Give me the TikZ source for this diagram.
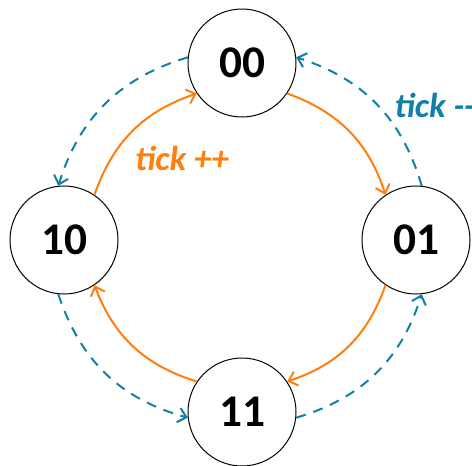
\documentclass[tikz,border=0pt]{standalone}
\usepackage{fontspec}
\setmainfont{Carlito}
\usetikzlibrary{arrows.meta}
\definecolor{tickorange}{RGB}{255,127,14}
\definecolor{tickblue}{RGB}{16,128,168}
\tikzset{every picture/.style={line width=0.75pt}}

\begin{document}
\begin{tikzpicture}[
            x=0.75pt,
            y=0.75pt,
            yscale=-1,
            xscale=1,
            every node/.style={text=black},
            cstate/.style={circle, draw=black, line width=0.75pt, minimum size=81pt, inner sep=0pt,
                font=\fontsize{34}{40}\selectfont\bfseries},
            tickup/.style={draw=tickorange, line width=1.5pt, -{Straight Barb[length=6pt,width=11pt]}},
            tickdown/.style={draw=tickblue, line width=1.5pt, dash pattern=on 7.5pt off 6pt,
                -{Straight Barb[length=6pt,width=11pt]}},
            ticklabel/.style={font=\fontsize{26}{30}\selectfont\bfseries\itshape, inner sep=0pt}
        ]
            \useasboundingbox (0,0) rectangle (472,465);

            \node[cstate] (n00) at (242,63) {00};
            \node[cstate] (n01) at (416,240) {01};
            \node[cstate] (n11) at (242,412) {11};
            \node[cstate] (n10) at (64,240) {10};

            % counting up
            \draw[tickup] (n00.-34) to[bend right=26] (n01.124);
            \draw[tickup] (n01.-124) to[bend right=26] (n11.34);
            \draw[tickup] (n11.146) to[bend right=26] (n10.-56);
            \draw[tickup] (n10.56) to[bend right=26] (n00.214);

            % counting down
            \draw[tickdown] (n00.174) to[bend left=28] (n10.96);
            \draw[tickdown] (n10.264) to[bend left=28] (n11.186);
            \draw[tickdown] (n11.-6) to[bend left=28] (n01.-84);
            \draw[tickdown] (n01.84) to[bend left=28] (n00.6);

            \node[ticklabel, text=tickorange, anchor=center] (lblup) at (182,158) {tick ++};
            \node[ticklabel, text=tickblue, anchor=west] (lbldown) at (394,105) {tick {-}{-}};
        \end{tikzpicture}
\end{document}
